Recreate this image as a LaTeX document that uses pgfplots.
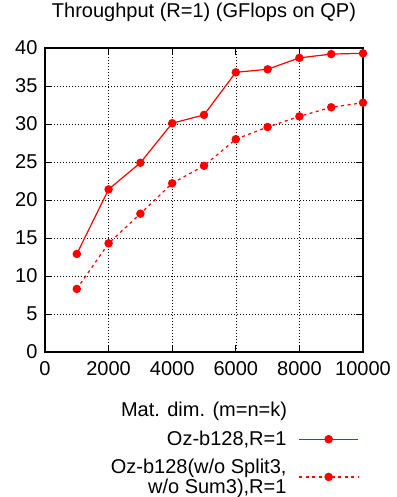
\documentclass[border=0pt]{standalone}
\usepackage{pgfplots}
\pgfplotsset{compat=1.18}
\usepackage{fontspec}
\setmainfont{Liberation Sans}
\begin{document}
\begin{tikzpicture}
\useasboundingbox (0,0) rectangle (396pt,497pt);
\begin{axis}[
  at={(45pt,145pt)}, anchor=south west,
  scale only axis, width=318pt, height=304pt,
  font=\fontsize{20}{23}\selectfont,
  /pgf/number format/assume math mode=true,
  /pgf/number format/set thousands separator={},
  scaled ticks=false,
  xmin=0, xmax=10000, ymin=0, ymax=40,
  xtick={0,2000,...,10000}, ytick={0,5,...,40},
  tick align=inside, major tick length=7pt,
  tick style={black, line width=0.8pt},
  axis line style={line width=1.3pt},
  grid=major,
  major grid style={black, line width=0.6pt, dash pattern=on 1pt off 2pt},
  xticklabel style={yshift=-6pt},
  yticklabel style={xshift=-4pt},
  title={Throughput (R=1) (GFlops on QP)},
  title style={at={(0.5,1)}, anchor=base, yshift=24pt},
  xlabel={Mat. dim. (m=n=k)},
  xlabel style={at={(0.5,0)}, anchor=base, yshift=-64pt},
  legend plot pos=right,
  legend cell align=right,
  legend style={at={(1.0,0)}, anchor=north east, xshift=-1pt, yshift=-75pt,
    draw=none, fill=none, cells={align=right}, row sep=8pt, column sep=10pt,
    font=\fontsize{20}{19.5}\selectfont},
  legend image code/.code={
    \draw[#1, red, line width=1.3pt, mark repeat=2, mark phase=2] plot coordinates {(0pt,0pt) (29.5pt,0pt) (59pt,0pt)};
  },
]
\addplot[red, line width=1.2pt, mark=*, mark size=3.6pt, mark options={solid}] coordinates {
(1000,12.9) (2000,21.4) (3000,24.9) (4000,30.1) (5000,31.2)
(6000,36.8) (7000,37.2) (8000,38.7) (9000,39.2) (10000,39.3)};
\addlegendentry{Oz-b128,R=1}
\addplot[red, line width=1.2pt, dash pattern=on 3pt off 3.5pt, mark=*, mark size=3.6pt, mark options={solid}] coordinates {
(1000,8.3) (2000,14.3) (3000,18.2) (4000,22.2) (5000,24.5)
(6000,28.0) (7000,29.6) (8000,31.0) (9000,32.2) (10000,32.8)};
\addlegendentry{Oz-b128(w/o Split3,\\w/o Sum3),R=1}
\end{axis}
\end{tikzpicture}
\end{document}
